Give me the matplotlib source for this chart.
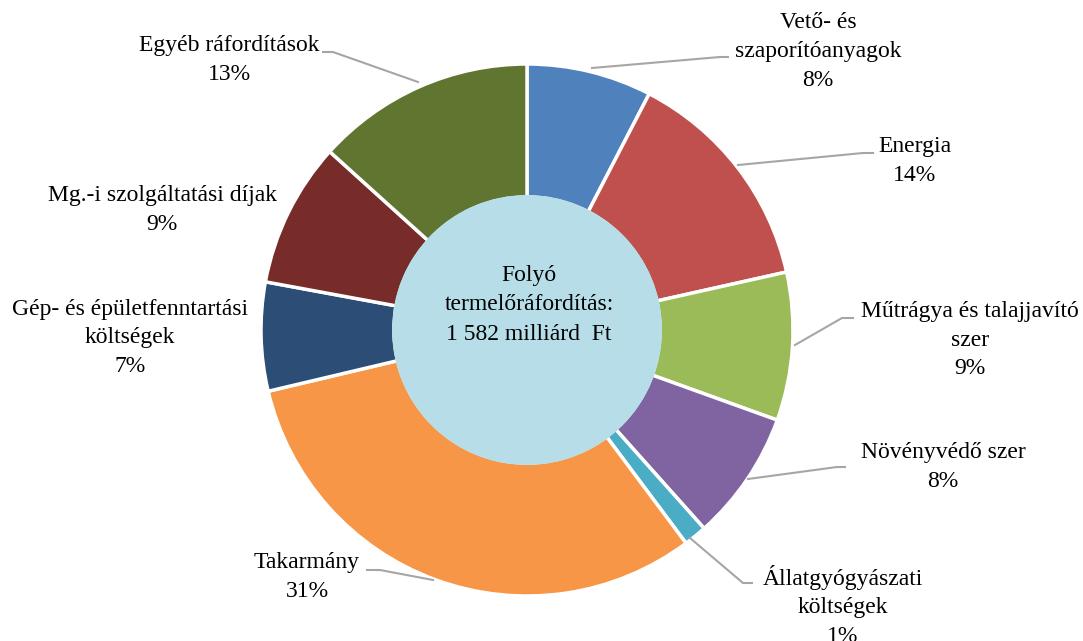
import matplotlib.pyplot as plt
from matplotlib.patches import Circle

plt.rcParams['font.family'] = ['Liberation Serif', 'DejaVu Serif']

# Folyó termelőráfordítás megoszlása (%)
categories = ['Vető- és\nszaporítóanyagok', 'Energia', 'Műtrágya és talajjavító\nszer',
              'Növényvédő szer', 'Állatgyógyászati\nköltségek', 'Takarmány',
              'Gép- és épületfenntartási\nköltségek', 'Mg.-i szolgáltatási díjak',
              'Egyéb ráfordítások']
values = [7.6, 13.9, 9.0, 7.9, 1.4, 31.5, 6.6, 8.8, 13.3]
pct_labels = ['8%', '14%', '9%', '8%', '1%', '31%', '7%', '9%', '13%']
colors = ['#4F81BD', '#C0504D', '#9BBB59', '#8064A2', '#4BACC6',
          '#F79646', '#2C4D75', '#772C2A', '#5F7530']
center_text = 'Folyó\ntermelőráfordítás:\n1 582 milliárd  Ft'

W, H = 1083, 641
fig = plt.figure(figsize=(W / 100, H / 100), dpi=100)
ax = fig.add_axes([0, 0, 1, 1])

def fy(y):
    # pixel row (from top) -> data y
    return H - y

cx, cy, r = 527, fy(330), 266
ax.pie(values, radius=r, center=(cx, cy), startangle=90, counterclock=False,
       colors=colors, wedgeprops=dict(width=r / 2, edgecolor='white', linewidth=2.5))
ax.add_patch(Circle((cx, cy), 135, facecolor='#B7DEE8', edgecolor='none', zorder=5))
ax.text(529, fy(305), center_text, ha='center', va='center', fontsize=17,
        linespacing=1.5, zorder=6)

# label positions (pixel centres) and leader lines
label_pos = [(818, 52), (915, 161), (970, 340), (943, 467), (843, 606),
             (307, 577), (130, 338), (162, 210), (229, 60)]
leaders = {
    0: [(592, 68), (720, 57), (728, 57)],
    1: [(738, 165), (863, 153), (873, 153)],
    2: [(795, 345), (842, 318), (853, 318)],
    3: [(748, 479), (837, 467), (845, 467)],
    4: [(690, 538), (743, 583), (752, 583)],
    5: [(433, 580), (380, 570), (367, 570)],
    8: [(418, 82), (333, 52), (323, 52)],
}
for i, (name, pct) in enumerate(zip(categories, pct_labels)):
    x, y = label_pos[i]
    ax.text(x, fy(y), name + '\n' + pct, ha='center', va='center', fontsize=17,
            linespacing=1.5)
    if i in leaders:
        pts = leaders[i]
        ax.plot([p[0] for p in pts], [fy(p[1]) for p in pts], color='#A6A6A6', lw=1.5)

ax.set_xlim(0, W)
ax.set_ylim(0, H)
ax.set_aspect('auto')
ax.axis('off')
fig.savefig('out.png', dpi=100)
